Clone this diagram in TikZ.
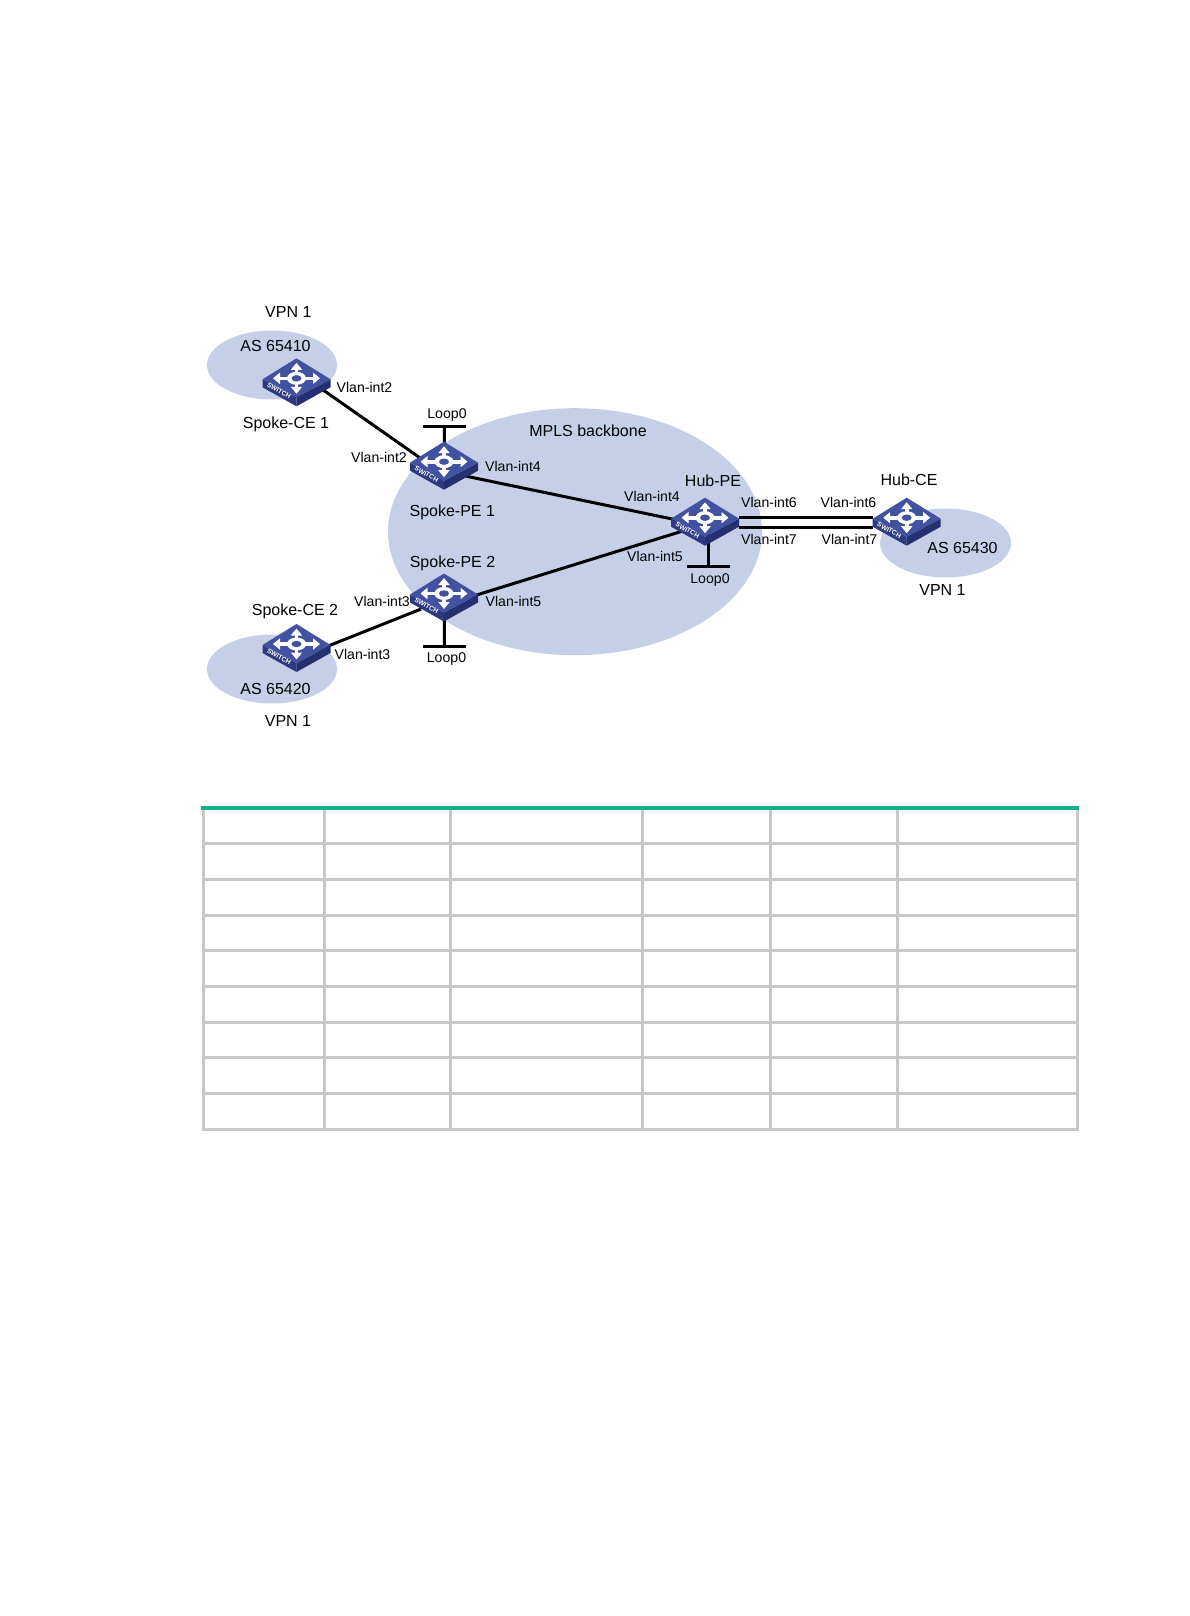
\documentclass[tikz,border=0pt]{standalone}
\usepackage{fontspec}
\setmainfont{Liberation Sans}
\usetikzlibrary{shapes.geometric, arrows.meta, positioning, calc}
\definecolor{cloudblue}{RGB}{197,208,232}
\definecolor{swface}{RGB}{64,82,160}
\definecolor{swleft}{RGB}{44,58,130}
\definecolor{swright}{RGB}{36,48,112}
\definecolor{swhole}{RGB}{52,68,146}
\definecolor{gridgray}{RGB}{200,200,200}
\definecolor{topgreen}{RGB}{16,176,140}
\tikzset{
  vpnarea/.style={ellipse, fill=cloudblue, inner sep=0pt},
  swnode/.style={rectangle, minimum width=68pt, minimum height=40pt, inner sep=0pt},
  lbl/.style={inner sep=0pt, text height=0.72em, text depth=0pt, font=\fontsize{16}{18}\selectfont},
  iflbl/.style={inner sep=0pt, text height=0.72em, text depth=0pt, font=\fontsize{14.1}{16}\selectfont},
  link/.style={line width=3pt, color=black},
  under/.style={shorten >=-12pt, shorten <=-12pt},
  swarrow/.style={-{Triangle[length=7pt, width=11pt]}, line width=3.6pt, color=white},
  swicon/.pic={
    \fill[swleft] (-34,0) -- (0,18) -- (0,27) -- (-34,8) -- cycle;
    \fill[swright] (0,18) -- (34,0) -- (34,8) -- (0,27) -- cycle;
    \fill[swface] (0,-21) -- (34,0) -- (0,18) -- (-34,0) -- cycle;
    \foreach \tip in {(-23.5,-1),(23.5,-1),(0,-16.5),(0,14.5)}
      \draw[swarrow] (0,-1) -- \tip;
    \fill[white] (0,-1) ellipse (9.5 and 6.5);
    \fill[swface] (0,-1) ellipse (5 and 3.2);
    \node[rotate=-29, text=white, inner sep=0pt, font=\fontsize{6.6}{7}\selectfont\bfseries] at (-17.5,11.5) {SWITCH};
  }
}
\begin{document}
\begin{tikzpicture}[x=1pt, y=-1pt]
  \useasboundingbox (0,0) rectangle (1190,1616);
  \fill[white] (0,0) rectangle (1190,1616);

  % areas
  \node[vpnarea, minimum width=130pt, minimum height=69pt] (areaA) at (272,365) {};
  \node[vpnarea, minimum width=130pt, minimum height=69pt] (areaB) at (272,669) {};
  \node[vpnarea, minimum width=131pt, minimum height=69pt] (areaC) at (945.5,543) {};
  \node[vpnarea, minimum width=374pt, minimum height=247pt] (mpls) at (575,531.7) {};

  % switches
  \node[swnode] (ce1) at (296.5,379.3) {};
  \node[swnode] (ce2) at (296.5,645) {};
  \node[swnode] (pe1) at (444,462.7) {};
  \node[swnode] (pe2) at (444,594.5) {};
  \node[swnode] (hubpe) at (705,518.7) {};
  \node[swnode] (hubce) at (906.7,518.7) {};

  \coordinate (loopA) at (444.5,426);
  \coordinate (loopB) at (444.5,646);
  \coordinate (loopC) at (708,566.7);

  % links
  \draw[link, under] ([yshift=-16pt]ce1.east) -- ([yshift=12pt]pe1.west);
  \draw[link, under] (ce2.east) -- ([yshift=-19pt]pe2.west);
  \draw[link, under] ([yshift=-16pt]pe1.east) -- (hubpe.west);
  \draw[link, under] (pe2.east) -- ([yshift=-16pt]hubpe.west);
  \draw[link] ([yshift=1pt]hubpe.east) -- ([yshift=1pt]hubce.west);
  \draw[link] ([yshift=-8.6pt]hubpe.east) -- ([yshift=-8.6pt]hubce.west);
  \draw[link] (pe1) -- (loopA);
  \draw[link] (pe2) -- (loopB);
  \draw[link] (hubpe.center -| loopC) -- (loopC);
  \foreach \lp in {loopA,loopB,loopC}
    \draw[link] ([xshift=-21.5pt]\lp) -- ([xshift=21.5pt]\lp);

  \foreach \sw in {ce1,ce2,pe1,pe2,hubpe,hubce}
    \pic at (\sw) {swicon};

  % labels
  \node[lbl] (vpnA) at (288.3,313.7) {VPN 1};
  \node[lbl] (asA) at (275.5,348) {AS 65410};
  \node[lbl] (nameCeA) at (286,424.5) {Spoke-CE 1};
  \node[lbl] (nameMpls) at (588,432.5) {MPLS backbone};
  \node[lbl] (namePeA) at (452.3,513) {Spoke-PE 1};
  \node[lbl] (namePeB) at (452.5,563.5) {Spoke-PE 2};
  \node[lbl] (nameCeB) at (295,611.5) {Spoke-CE 2};
  \node[lbl] (asB) at (275.5,691) {AS 65420};
  \node[lbl] (vpnB) at (288,723) {VPN 1};
  \node[lbl] (nameHubPe) at (713,483) {Hub-PE};
  \node[lbl] (nameHubCe) at (909,481.7) {Hub-CE};
  \node[lbl] (asC) at (962.5,550) {AS 65430};
  \node[lbl] (vpnC) at (942.5,591.5) {VPN 1};

  \node[iflbl] (ifA) at (364.5,388.5) {Vlan-int2};
  \node[iflbl] (ifB) at (379,458.7) {Vlan-int2};
  \node[iflbl] (ifC) at (513,467.5) {Vlan-int4};
  \node[iflbl] (ifD) at (652,497.7) {Vlan-int4};
  \node[iflbl] (ifE) at (655,558.3) {Vlan-int5};
  \node[iflbl] (ifF) at (513.5,603) {Vlan-int5};
  \node[iflbl] (ifG) at (382,603) {Vlan-int3};
  \node[iflbl] (ifH) at (362.5,656) {Vlan-int3};
  \node[iflbl] (ifI) at (769,503.5) {Vlan-int6};
  \node[iflbl] (ifJ) at (848.5,503.5) {Vlan-int6};
  \node[iflbl] (ifK) at (769,541.3) {Vlan-int7};
  \node[iflbl] (ifL) at (849.5,541.3) {Vlan-int7};
  \node[iflbl] (loopTextA) at (447,415) {Loop0};
  \node[iflbl] (loopTextB) at (446.5,658.5) {Loop0};
  \node[iflbl] (loopTextC) at (710,579.5) {Loop0};

  % table grid
  \foreach \rowy in {843.3,879,915,950.5,986,1022,1057,1093,1129}
    \draw[gridgray, line width=3pt] (202,\rowy) -- (1079,\rowy);
  \foreach \colx in {203,324,450.5,642,770,897,1077.5}
    \draw[gridgray, line width=3pt] (\colx,808) -- (\colx,1130.5);
  \draw[topgreen, line width=4pt] (201,808) -- (1079,808);
\end{tikzpicture}
\end{document}
